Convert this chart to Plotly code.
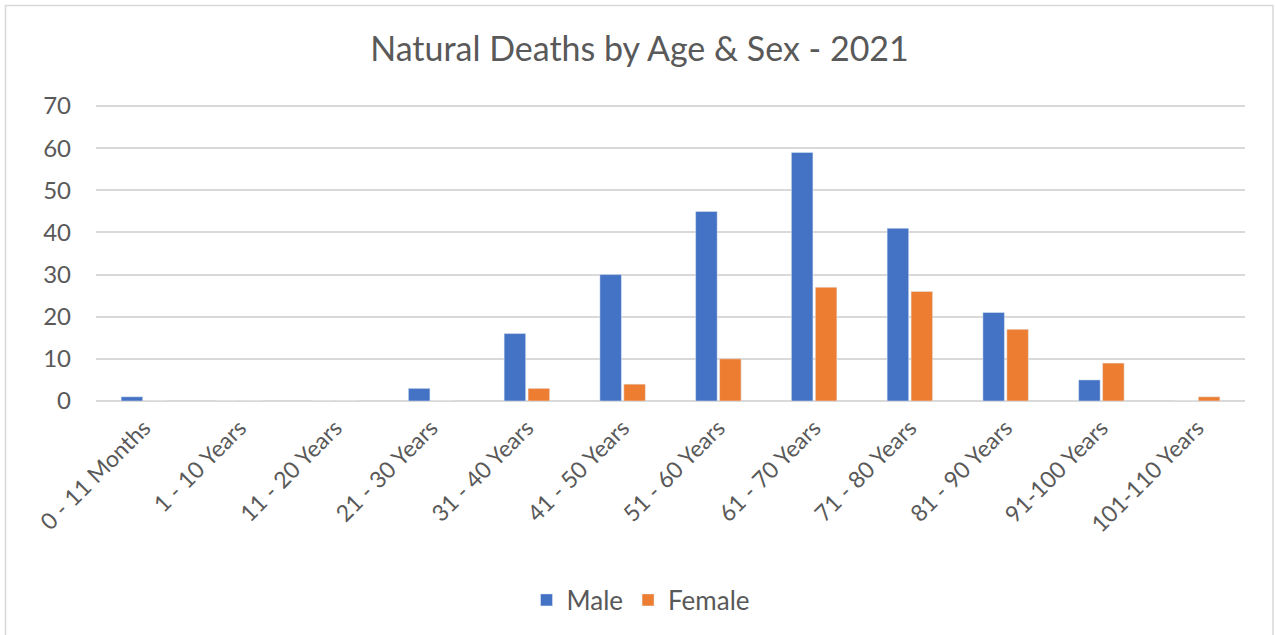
import plotly.graph_objects as go

categories = ["0 - 11 Months", "1 - 10 Years", "11 - 20 Years", "21 - 30 Years",
              "31 - 40 Years", "41 - 50 Years", "51 - 60 Years", "61 - 70 Years",
              "71 - 80 Years", "81 - 90 Years", "91-100 Years", "101-110 Years"]
male = [1, 0, 0, 3, 16, 30, 45, 59, 41, 21, 5, 0]
female = [0, 0, 0, 0, 3, 4, 10, 27, 26, 17, 9, 1]
y_ticks = [0, 10, 20, 30, 40, 50, 60, 70]

W, H = 1275, 635
L, R, T, B = 96, 30, 105, 234
pw, ph = W - L - R, H - T - B

fig = go.Figure()
fig.add_trace(go.Bar(name="Male", x=categories, y=male, marker_color="#4472C4"))
fig.add_trace(go.Bar(name="Female", x=categories, y=female, marker_color="#ED7D31"))

font_fam = "Lato, 'Open Sans', sans-serif"
fig.update_layout(
    width=W, height=H,
    margin=dict(l=L, r=R, t=T, b=B),
    paper_bgcolor="white", plot_bgcolor="white",
    barmode="group", bargap=0.5, bargroupgap=0.1,
    font=dict(family=font_fam, color="#595959", size=22),
    title=dict(text="Natural Deaths by Age & Sex - 2021", x=(639.5 - L) / pw, xanchor="center",
               xref="paper", y=1 - 49 / H, yanchor="middle",
               font=dict(size=34, color="#595959", family=font_fam)),
    legend=dict(orientation="h", x=(641 - L) / pw, xanchor="center", y=-(600 - (T + ph)) / ph,
                yanchor="middle", font=dict(size=26, color="#595959"),
                itemwidth=30),
    xaxis=dict(tickangle=-45, showgrid=False, showline=False, ticks="",
               ticklabelstandoff=8,
               tickfont=dict(size=23, color="#595959")),
    yaxis=dict(range=[0, 70.25], tickvals=y_ticks, showgrid=True, gridcolor="#D9D9D9",
               gridwidth=1.5, zeroline=True, zerolinecolor="#D9D9D9", zerolinewidth=1.5,
               showline=False, ticks="", ticklabelstandoff=24,
               tickfont=dict(size=24, color="#595959")),
    shapes=[dict(type="rect", xref="paper", yref="paper",
                 x0=(5.5 - L) / pw, x1=(1273 - L) / pw,
                 y0=(T + ph - 640) / ph, y1=(T + ph - 5.5) / ph,
                 line=dict(color="#D9D9D9", width=1.5), fillcolor="rgba(0,0,0,0)",
                 layer="below")],
)

fig.write_html("out.html", config={"displayModeBar": False},
               post_script="document.body.style.margin='0';document.body.style.overflow='hidden';")
